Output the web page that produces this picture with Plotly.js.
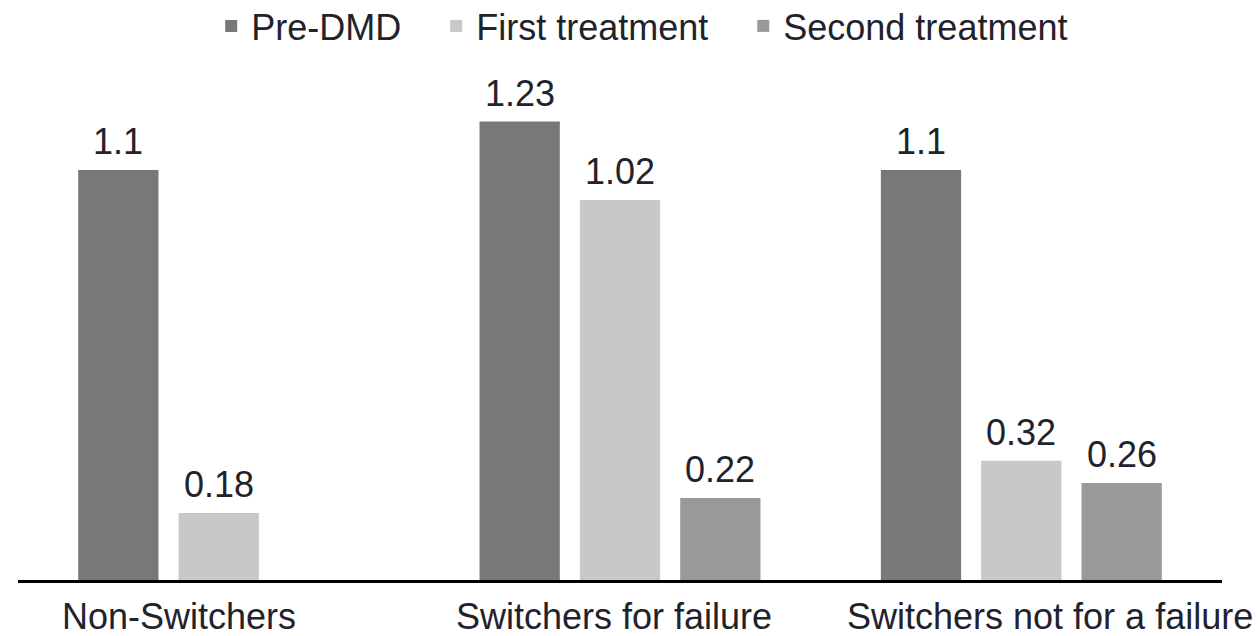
<!DOCTYPE html>
<html>
<head>
<meta charset="utf-8">
<script src="https://cdn.plot.ly/plotly-3.0.1.min.js"></script>
<style>
  html, body { margin: 0; padding: 0; background: #ffffff; }
  #chart { width: 1258px; height: 636px; }
</style>
</head>
<body>
<div id="chart"></div>
<script>
// Groups of patients along the x axis
const categories = ['Non-Switchers', 'Switchers for failure', 'Switchers not for a failure'];

// Values per treatment period (null = no bar in that group)
const preDMD = [1.1, 1.23, 1.1];
const firstTreatment = [0.18, 1.02, 0.32];
const secondTreatment = [null, 0.22, 0.26];

const seriesNames = ['Pre-DMD', 'First treatment', 'Second treatment'];
const seriesValues = [preDMD, firstTreatment, secondTreatment];
const seriesColors = ['#76787a', '#c6c8ca', '#97999b'];

const fontFamily = 'Liberation Sans, Arial, sans-serif';
const textColor = '#22222c';
const fontSize = 36;

// Extra room after each legend entry except the last
const legendPad = '\u00A0\u00A0\u00A0';

const traces = seriesValues.map((vals, i) => ({
  type: 'bar',
  name: seriesNames[i] + (i < seriesNames.length - 1 ? legendPad : ''),
  x: categories,
  y: vals,
  marker: { color: seriesColors[i], line: { width: 0 } },
  hoverinfo: 'skip'
}));

// Value labels above each bar, placed in category units
const bargap = 0.25;
const slot = (1 - bargap) / seriesValues.length;
const annotations = [];
seriesValues.forEach((vals, si) => {
  vals.forEach((v, ci) => {
    if (v === null) return;
    annotations.push({
      x: ci + (si - (seriesValues.length - 1) / 2) * slot,
      y: v,
      xref: 'x', yref: 'y',
      text: String(v),
      showarrow: false,
      yanchor: 'bottom',
      yshift: 6,
      font: { family: fontFamily, size: fontSize, color: textColor }
    });
  });
});

// Category labels under the axis
const labelShift = [-40, -6, 29];
categories.forEach((c, ci) => {
  annotations.push({
    x: ci, y: 0, xref: 'x', yref: 'paper',
    text: c, showarrow: false,
    yanchor: 'top', yshift: -14, xshift: labelShift[ci],
    font: { family: fontFamily, size: fontSize, color: textColor }
  });
});

const layout = {
  width: 1258,
  height: 636,
  margin: { l: 18, r: 36, t: 100, b: 56, autoexpand: false },
  paper_bgcolor: '#ffffff',
  plot_bgcolor: '#ffffff',
  barmode: 'group',
  bargap: bargap,
  bargroupgap: 0.2,
  font: { family: fontFamily, size: fontSize, color: textColor },
  showlegend: true,
  legend: {
    orientation: 'h',
    x: 0.5105, xanchor: 'center', xref: 'container',
    y: 1.2167, yanchor: 'top', yref: 'paper',
    font: { family: fontFamily, size: fontSize, color: textColor },
    itemclick: false, itemdoubleclick: false
  },
  xaxis: {
    type: 'category',
    range: [-0.5, 2.5],
    showticklabels: false,
    ticks: '',
    showline: true,
    linecolor: '#000000',
    linewidth: 3,
    showgrid: false,
    zeroline: false,
    fixedrange: true
  },
  yaxis: {
    range: [0, 1.288],
    visible: false,
    showgrid: false,
    zeroline: false,
    fixedrange: true
  },
  annotations: annotations
};

Plotly.newPlot('chart', traces, layout, { displayModeBar: false, staticPlot: true });
</script>
</body>
</html>
